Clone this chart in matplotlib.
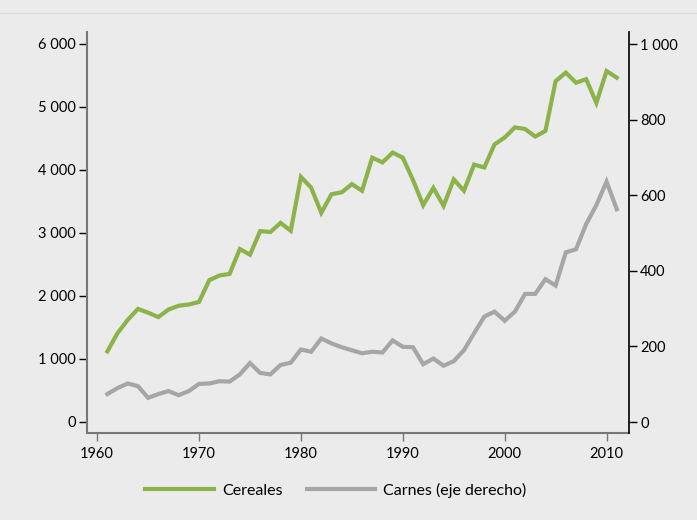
import matplotlib.pyplot as plt
import matplotlib.ticker as mticker
from matplotlib.lines import Line2D
import numpy as np

plt.rcParams['font.family'] = ['Lato', 'DejaVu Sans']

years = list(range(1961, 2012))

# cereales (eje izquierdo)
cereales = [1120, 1410, 1620, 1795, 1735, 1665, 1785, 1845, 1865, 1905,
            2250, 2325, 2350, 2745, 2655, 3030, 3015, 3160, 3035, 3890,
            3720, 3320, 3615, 3645, 3775, 3670, 4195, 4120, 4275, 4195,
            3840, 3440, 3715, 3430, 3850, 3670, 4085, 4040, 4405, 4515,
            4675, 4650, 4530, 4620, 5410, 5545, 5385, 5440, 5065, 5570,
            5465]

# carnes (eje derecho)
carnes = [74, 90, 102, 95, 64, 74, 82, 71, 82, 101,
          102, 108, 107, 126, 156, 130, 126, 151, 157, 192,
          186, 221, 208, 198, 190, 182, 186, 184, 216, 199,
          198, 153, 168, 149, 161, 190, 235, 279, 292, 268,
          292, 339, 339, 378, 361, 449, 457, 524, 574, 636,
          563]

x_ticks = [1960, 1970, 1980, 1990, 2000, 2010]
left_ticks = [0, 1000, 2000, 3000, 4000, 5000, 6000]
right_ticks = [0, 200, 400, 600, 800, 1000]

bg = '#ebebeb'
green = '#8cb24a'
grey = '#a6a6a6'


def miles(v, pos):
    return '{:,.0f}'.format(v).replace(',', ' ')


fig = plt.figure(figsize=(6.97, 5.2), dpi=100, facecolor=bg)
ax = fig.add_axes([0.1248, 0.1673, 0.7776, 0.7712])
ax.set_facecolor(bg)
ax2 = ax.twinx()

l1, = ax.plot(years, cereales, color=green, lw=3, solid_joinstyle='miter')
l2, = ax2.plot(years, carnes, color=grey, lw=3, solid_joinstyle='miter')

ax.set_xlim(1959.0, 2012.2)
ax.set_ylim(-175, 6190)
ax2.set_ylim(-29, 1032)

ax.set_xticks(x_ticks)
ax.set_yticks(left_ticks)
ax2.set_yticks(right_ticks)
ax.yaxis.set_major_formatter(mticker.FuncFormatter(miles))
ax2.yaxis.set_major_formatter(mticker.FuncFormatter(miles))

for a in (ax, ax2):
    a.spines['top'].set_visible(False)
ax.spines['right'].set_visible(False)
ax2.spines['left'].set_visible(False)
ax2.spines['bottom'].set_visible(False)
ax.spines['left'].set_color('#777777')
ax.spines['bottom'].set_color('#777777')
ax2.spines['right'].set_color('#000000')
ax.spines['left'].set_linewidth(1.5)
ax.spines['bottom'].set_linewidth(1.5)
ax2.spines['right'].set_linewidth(1.2)

ax.tick_params(axis='x', length=6, width=1, color='#777777', labelsize=10.5, pad=4)
ax.tick_params(axis='y', length=6, width=1, color='#000000', labelsize=10.5, pad=2)
ax2.tick_params(axis='y', length=6, width=1, color='#000000', labelsize=10.5, pad=2)

fig.legend([l1, l2], ['Cereales', 'Carnes (eje derecho)'], loc='center',
           bbox_to_anchor=(0.482, 0.057), ncol=2, frameon=False, fontsize=11.5,
           handlelength=4.3, columnspacing=1.5, handletextpad=0.5)

fig.add_artist(Line2D([0, 1], [1 - 13 / 520, 1 - 13 / 520], color='#dcdcdc', lw=1,
                      transform=fig.transFigure))

fig.savefig('out.png', dpi=100, facecolor=bg)
